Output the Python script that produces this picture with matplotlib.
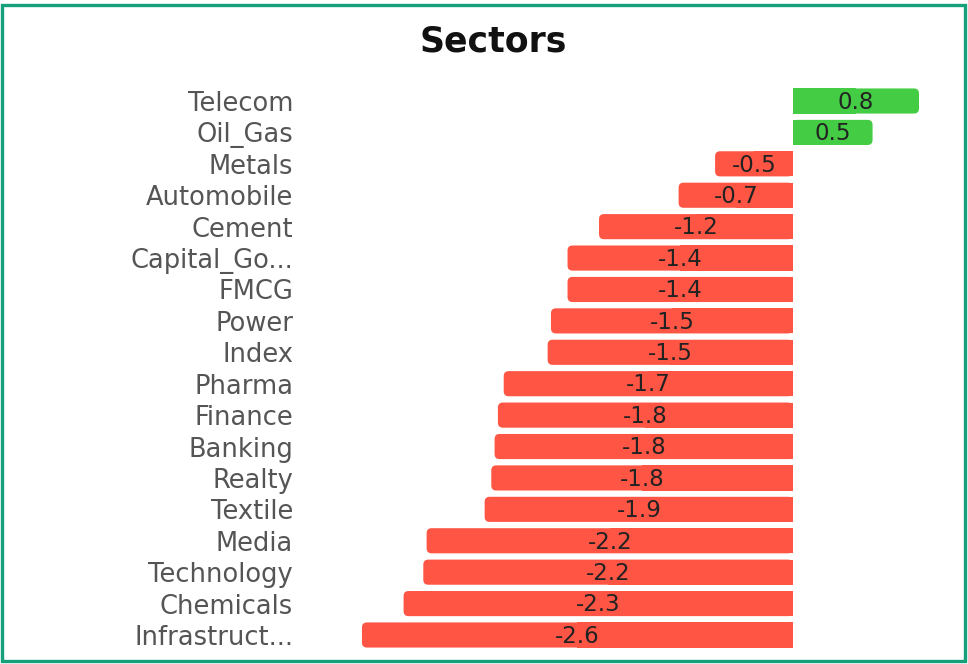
import matplotlib.pyplot as plt
from matplotlib.patches import FancyBboxPatch, Rectangle

# sector performance (%), top to bottom
sectors = ["Telecom", "Oil_Gas", "Metals", "Automobile", "Cement", "Capital_Go...",
           "FMCG", "Power", "Index", "Pharma", "Finance", "Banking", "Realty",
           "Textile", "Media", "Technology", "Chemicals", "Infrastruct..."]
changes = [0.76, 0.48, -0.47, -0.69, -1.17, -1.36, -1.36, -1.46, -1.48, -1.745,
           -1.78, -1.80, -1.82, -1.86, -2.21, -2.23, -2.349, -2.60]

green = "#44CC44"
red = "#FF5544"

W, H = 968, 664
fig = plt.figure(figsize=(W / 100, H / 100), dpi=100)

# axes placed so that 0 sits at ~793px and -2.6 at ~362px
x0, x1 = -2.68, 0.83
ax = fig.add_axes([348.7 / W, 13.3 / H, (930.6 - 348.7) / W, (650.7 - 85.3) / H])
ax.set_xlim(x0, x1)
ax.set_ylim(len(sectors) - 0.5, -0.5)

# aspect for rounded corners (px per x unit / px per y unit)
px_x = (930.6 - 348.7) / (x1 - x0)
px_y = (650.7 - 85.3) / len(sectors)
aspect = px_x / px_y

bar_h = 0.8
r = 5 / px_x
for i, v in enumerate(changes):
    c = green if v > 0 else red
    left = min(0, v)
    box = FancyBboxPatch((left, i - bar_h / 2), abs(v), bar_h,
                         boxstyle=f"round,pad=0,rounding_size={r}",
                         mutation_aspect=aspect, fc=c, ec="none")
    ax.add_patch(box)
    # keep the inner end square
    ax.add_patch(Rectangle((min(0, v / 2), i - bar_h / 2), abs(v) / 2, bar_h,
                           fc=c, ec="none"))
    ax.text(v / 2, i + 0.04, f"{v:.1f}", ha="center", va="center",
            fontsize=16.5, color="#222222", family="DejaVu Sans")

ax.set_yticks(range(len(sectors)))
ax.set_yticklabels(sectors, fontsize=18.5, color="#555555", family="DejaVu Sans")
ax.tick_params(axis="y", length=0, pad=40)
ax.set_xticks([])
for s in ax.spines.values():
    s.set_visible(False)

fig.text(493 / W, 1 - 42 / H, "Sectors", ha="center", va="center",
         fontsize=25, fontweight="bold", color="#111111", family="DejaVu Sans")

# teal frame around the picture
fig.patches.append(Rectangle((1.5 / W, 3 / H), 963.5 / W, 656 / H,
                             transform=fig.transFigure, fill=False,
                             ec="#14A07A", lw=2.4))

fig.savefig("out.png", dpi=100)
